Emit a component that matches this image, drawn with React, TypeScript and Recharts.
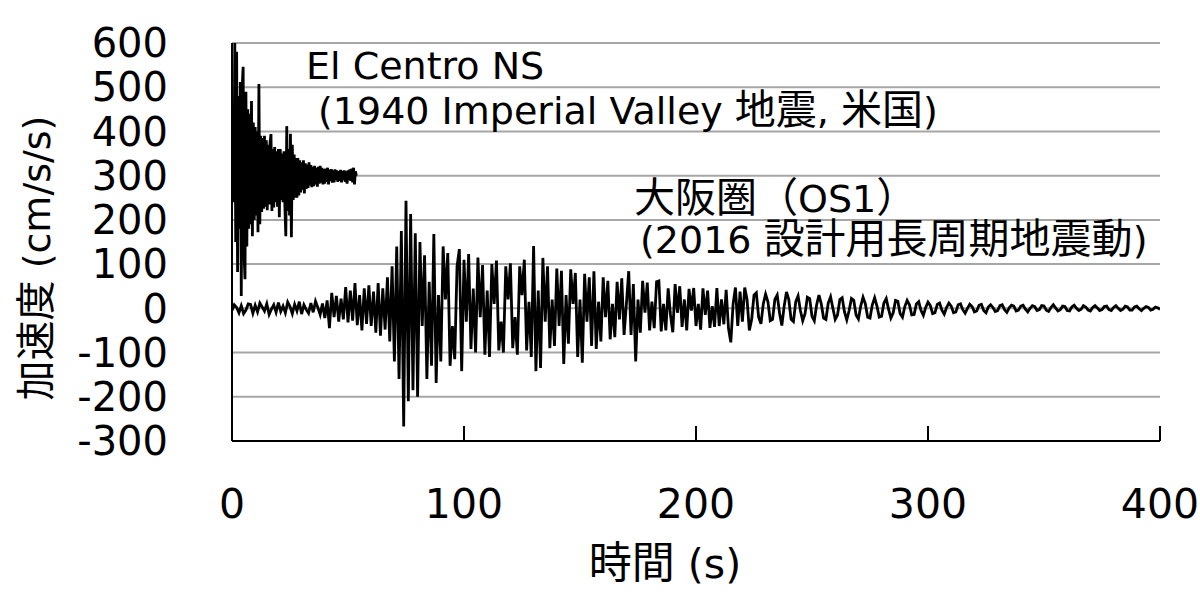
import { CartesianGrid, Line, LineChart, XAxis, YAxis } from "recharts"

// El Centro NS, raw acceleration (cm/s/s), sampled every 0.4 s, drawn shifted up by 300
const EL_CENTRO_DT = 0.4
const EL_CENTRO_OFFSET = 300
const elCentroAccel = [
  0, 40, -60, 300, -150, 280, -218, 180, -120, 212,
  -272, 200, 246, -180, -234, 190, -160, 150, -120, 140,
  -110, 169, -137, 120, -100, 110, -90, 100, -128, 207,
  -110, 90, -82, 85, -75, 90, -70, 80, -78, 70,
  -65, 75, 94, -80, 60, -72, 65, -60, 55, -70,
  60, -94, 60, -55, 50, -60, 55, -70, -137, 112,
  -80, 60, -90, 95, -139, 70, -55, 48, -50, 40,
  -50, 40, -45, 35, -38, 30, -32, 35, -40, 28,
  -30, 25, -28, 30, -22, 24, -26, 20, -24, 22,
  -20, 18, -25, 20, -18, 22, -16, 18, -20, 15,
  -18, 16, -14, 18, -20, 14, -12, 15, -16, 12,
  -15, 14, -10, 12, -14, 10, -12, 13, -15, 11,
  -10, 12, -14, 10, -18, 12, -10, 14, -12, 16,
  -15, 18, -20, 10, 0,
]

// 大阪圏 OS1, acceleration (cm/s/s), sampled every 1 s
const OSAKA_DT = 1
const osakaAccel = [
  -5, 8, 2, -10, 6, -12, -4, 10, 9, -11,
  7, -8, 12, 3, -6, 10, -14, -2, 8, -9,
  13, -7, 5, -10, 14, 4, -12, 9, -6, 15,
  -13, 8, -3, -11, 12, -9, 16, 2, -14, 11,
  -22, 18, -45, 35, -20, 28, -30, 22, -25, 48,
  -32, 40, -28, 57, -38, 30, -50, 45, -35, 52,
  -40, 38, -55, 57, -62, 45, -48, 70, -75, 95,
  -120, 140, -160, 175, -267, 243, -210, 213, -185, 170,
  -200, 150, -40, 120, -160, 60, -130, 168, -169, 30,
  -120, 140, 20, 125, -130, -40, -115, 95, 134, -142,
  110, -30, 123, -92, 45, -100, 115, -20, 98, -105,
  40, -110, 100, 10, 108, -95, -30, -100, 95, 20,
  102, -90, -20, -105, 95, 30, 110, -95, 15, -110,
  141, -142, 40, -135, 114, -30, 95, -90, 20, -85,
  90, -40, 85, -126, 30, -80, 88, 10, 80, -110,
  20, -123, 78, -30, 70, -85, 84, -92, 15, -75,
  70, -20, 62, -70, 10, -65, 60, -25, 68, -60,
  10, 84, -60, 55, -120, 20, -55, 62, -10, 58,
  -50, 15, -45, 60, 62, -52, 10, -50, 45, -15,
  -54, 55, -10, 50, -42, 20, -50, 44, -5, 46,
  -40, 10, -48, 45, -15, 40, -44, 5, -42, 46,
  -40, 20, -36, 42, -45, -77, 10, 47, -40, 38,
  -30, 47, 20, -50, -25, 30, 35, -20, -35, 10,
  32, 15, -28, -25, 20, 30, -10, -39, 5, 37,
  20, -25, -30, 15, 28, -5, -28, -12, 25, 22,
  -18, -28, 8, 30, 10, -22, -25, 12, 26, 0,
  -25, -15, 20, 24, -8, -26, -5, 22, 18, -15,
  -24, 5, 25, 10, -20, -22, 8, 24, 5, -20,
  -18, 12, 22, -2, -22, -10, 18, 16, -12, -20,
  4, 18, 8, -15, -14, 10, 15, -5, -16, 2,
  14, 6, -12, -10, 9, 12, -4, -13, 2, 12,
  5, -10, -8, 8, 10, -3, -11, 0, 9, 4,
  -8, -6, 7, 9, -5, -10, 3, 8, 2, -7,
  -5, 6, 8, -3, -9, 1, 7, 5, -6, -4,
  5, 7, -2, -8, 0, 6, 4, -5, -3, 6,
  5, -4, -7, 2, 8, 1, -6, -3, 5, 4,
  -5, -6, 3, 7, 0, -5, -2, 6, 3, -4,
  -6, 2, 6, 1, -5, -3, 4, 5, -3, -5,
  2, 6, 0, -5, -2, 5, 3, -4, -4, 3,
  5, -1, -5, 0, 4, 2, -4, -2, 3, 1,
  -2,
]

const xTicks = [0, 100, 200, 300, 400]
const yTicks = [-300, -200, -100, 0, 100, 200, 300, 400, 500, 600]

const yTitle = "加速度 (cm/s/s)"
const xTitle = "時間 (s)"
const elCentroLabel = ["El Centro NS", "(1940 Imperial Valley 地震, 米国)"]
const osakaLabel = ["大阪圏（OS1）", "(2016 設計用長周期地震動)"]

const LATIN = "DejaVu Sans"
const CJK_FONT = "Noto Sans CJK JP"

const elCentroData = elCentroAccel.map((a, i) => ({
  t: Math.round(i * EL_CENTRO_DT * 100) / 100,
  v: a + EL_CENTRO_OFFSET,
}))
const osakaData = osakaAccel.map((a, i) => ({ t: i * OSAKA_DT, v: a }))

// split a string into CJK / non-CJK runs so each gets its own font
function splitRuns(s: string) {
  const re = /[\u3000-\u30ff\u3400-\u9fff\uff00-\uffef]+/g
  const out: { text: string; cjk: boolean }[] = []
  let last = 0
  let m: RegExpExecArray | null
  while ((m = re.exec(s))) {
    if (m.index > last) out.push({ text: s.slice(last, m.index), cjk: false })
    out.push({ text: m[0], cjk: true })
    last = m.index + m[0].length
  }
  if (last < s.length) out.push({ text: s.slice(last), cjk: false })
  return out
}

function MixedText({
  x,
  y,
  text,
  anchor = "start",
  size = 38,
  cjkSize = 41,
  transform,
}: {
  x: number
  y: number
  text: string
  anchor?: string
  size?: number
  cjkSize?: number
  transform?: string
}) {
  return (
    <text x={x} y={y} textAnchor={anchor} fill="#000" transform={transform} style={{ whiteSpace: "pre" }}>
      {splitRuns(text).map((r, i) => (
        <tspan key={i} fontFamily={r.cjk ? CJK_FONT : LATIN} fontSize={r.cjk ? cjkSize : size}>
          {r.text}
        </tspan>
      ))}
    </text>
  )
}

export default function App() {
  return (
    <div style={{ position: "absolute", left: 0, top: 0, width: 1200, height: 596, background: "#fff" }}>
      <LineChart width={1200} height={596} margin={{ top: 43, right: 40, bottom: 0, left: 0 }}>
        <CartesianGrid vertical={false} stroke="#a6a6a6" strokeWidth={2} />
        <XAxis
          type="number"
          dataKey="t"
          domain={[0, 400]}
          ticks={xTicks}
          interval={0}
          allowDataOverflow
          height={155}
          tickSize={-15}
          tickMargin={63}
          axisLine={{ stroke: "#000", strokeWidth: 2 }}
          tickLine={{ stroke: "#000", strokeWidth: 2 }}
          tick={{ fill: "#000", fontSize: 41, fontFamily: LATIN }}
        />
        <YAxis
          type="number"
          domain={[-300, 600]}
          ticks={yTicks}
          interval={0}
          allowDataOverflow
          width={232}
          tickLine={false}
          tickSize={0}
          tickMargin={64}
          axisLine={{ stroke: "#000", strokeWidth: 2 }}
          tick={{ fill: "#000", fontSize: 40, fontFamily: LATIN }}
        />
        <Line
          data={osakaData}
          dataKey="v"
          type="linear"
          stroke="#000"
          strokeWidth={2.8}
          dot={false}
          activeDot={false}
          isAnimationActive={false}
        />
        <Line
          data={elCentroData}
          dataKey="v"
          type="linear"
          stroke="#000"
          strokeWidth={2.8}
          dot={false}
          activeDot={false}
          isAnimationActive={false}
        />
      </LineChart>
      <svg width={1200} height={596} style={{ position: "absolute", left: 0, top: 0, pointerEvents: "none" }}>
        <MixedText x={306} y={79} text={elCentroLabel[0]} />
        <MixedText x={318} y={124} text={elCentroLabel[1]} />
        <MixedText x={634} y={212} text={osakaLabel[0]} />
        <MixedText x={640} y={253} text={osakaLabel[1]} />
        <MixedText x={665} y={578} anchor="middle" text={xTitle} size={41} cjkSize={43} />
        <MixedText x={0} y={0} anchor="middle" text={yTitle} size={38} cjkSize={40} transform="translate(50,258) rotate(-90)" />
      </svg>
    </div>
  )
}
